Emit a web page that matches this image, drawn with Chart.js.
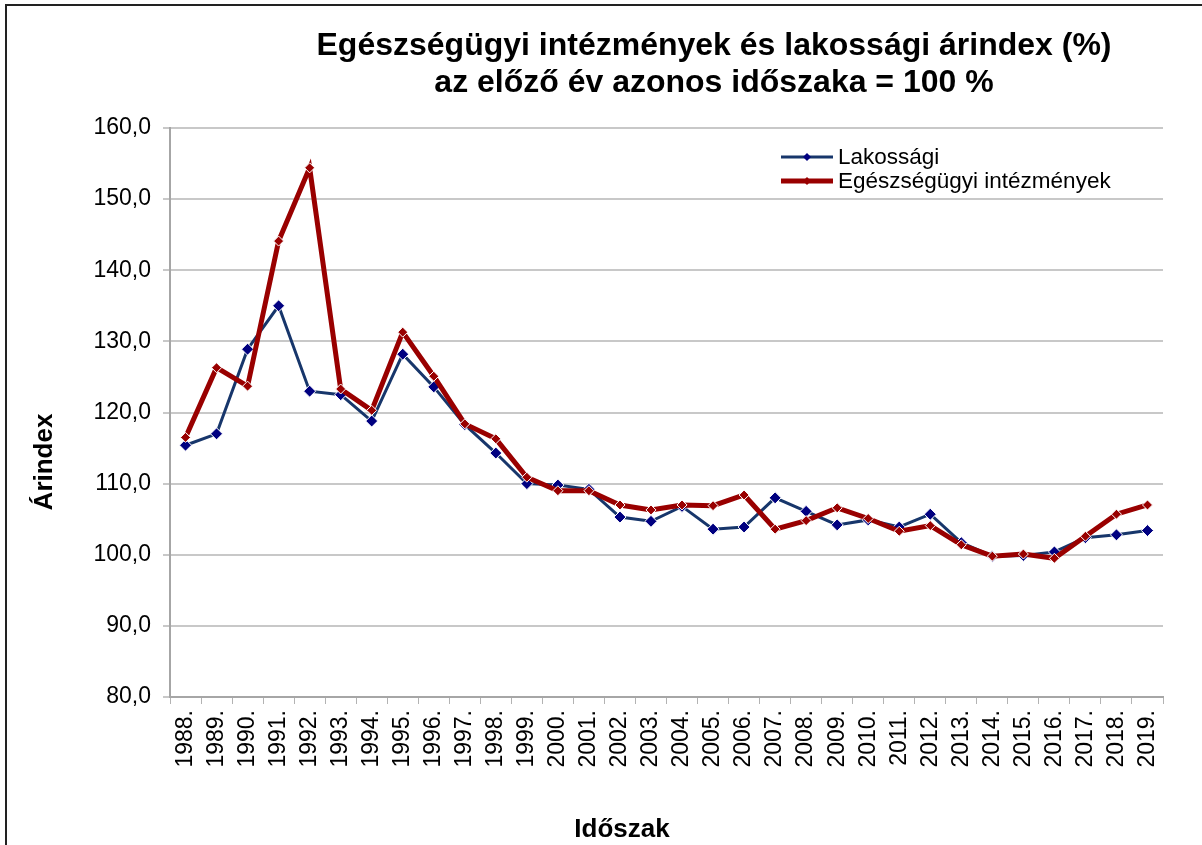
<!DOCTYPE html>
<html>
<head>
<meta charset="utf-8">
<script src="https://cdn.jsdelivr.net/npm/chart.js@4.4.0/dist/chart.umd.min.js"></script>
<style>
html,body{margin:0;padding:0;background:#fff;overflow:hidden;}
#wrap{position:absolute;left:0;top:0;width:1202px;height:845px;}
#frame{position:absolute;left:5px;top:4px;width:1400px;height:1000px;border-left:2px solid #222;border-top:2px solid #222;pointer-events:none;}
</style>
</head>
<body>
<div id="wrap"><canvas id="c" width="1202" height="845"></canvas></div>
<div id="frame"></div>
<script>
const categories = ["1988.","1989.","1990.","1991.","1992.","1993.","1994.","1995.","1996.","1997.","1998.","1999.","2000.","2001.","2002.","2003.","2004.","2005.","2006.","2007.","2008.","2009.","2010.","2011.","2012.","2013.","2014.","2015.","2016.","2017.","2018.","2019."];
const lakossagi = [115.4,117.0,128.9,135.0,123.0,122.5,118.8,128.2,123.6,118.3,114.3,110.0,109.8,109.2,105.3,104.7,106.8,103.6,103.9,108.0,106.1,104.2,104.9,103.9,105.7,101.7,99.8,99.9,100.4,102.4,102.8,103.4];
const egeszsegugyi = [116.5,126.3,123.7,144.1,154.4,123.3,120.3,131.3,125.1,118.4,116.3,110.9,109.0,109.0,107.0,106.3,107.0,106.9,108.4,103.6,104.8,106.6,105.1,103.3,104.1,101.4,99.8,100.1,99.5,102.6,105.7,107.0];
const yTicks = {min: 80, max: 160, step: 10};
const titleLines = ["Egészségügyi intézmények és lakossági árindex (%)", "az előző év azonos időszaka = 100 %"];
const yTitle = "Árindex";
const xTitle = "Időszak";

const FONT = "'Liberation Sans', Arial, sans-serif";

const textPlugin = {
  id: 'texts',
  afterDraw(chart) {
    const ctx = chart.ctx;
    ctx.save();
    ctx.fillStyle = '#000';
    ctx.textAlign = 'center';
    ctx.textBaseline = 'middle';
    ctx.font = "bold 32px " + FONT;
    ctx.fillText(titleLines[0], 714, 46);
    ctx.fillText(titleLines[1], 714, 83);
    ctx.font = "bold 26px " + FONT;
    ctx.fillText(xTitle, 622, 830);
    ctx.translate(45, 462);
    ctx.rotate(-Math.PI/2);
    ctx.fillText(yTitle, 0, 0);
    ctx.restore();
  }
};

const legendPlugin = {
  id: 'inlegend',
  afterDatasetsDraw(chart) {
    const ctx = chart.ctx;
    ctx.save();
    const x0 = 781, x1 = 833, tx = 838;
    const ys = [157, 181];
    chart.data.datasets.forEach((ds, i) => {
      const y = ys[i];
      ctx.strokeStyle = ds.borderColor;
      ctx.lineWidth = ds.borderWidth;
      ctx.beginPath(); ctx.moveTo(x0, y); ctx.lineTo(x1, y); ctx.stroke();
      const r = ds.legendMarker;
      const cx = (x0 + x1) / 2;
      ctx.fillStyle = ds.pointBackgroundColor;
      ctx.beginPath();
      ctx.moveTo(cx, y - r); ctx.lineTo(cx + r, y); ctx.lineTo(cx, y + r); ctx.lineTo(cx - r, y); ctx.closePath();
      ctx.fill();
      ctx.fillStyle = '#000';
      ctx.font = "22.5px " + FONT;
      ctx.textAlign = 'left';
      ctx.textBaseline = 'middle';
      ctx.fillText(ds.label, tx, y + 1);
    });
    ctx.restore();
  }
};

new Chart(document.getElementById('c'), {
  type: 'line',
  data: {
    labels: categories,
    datasets: [
      {
        label: 'Lakossági',
        data: lakossagi,
        borderColor: '#17366b',
        borderWidth: 3,
        pointStyle: 'rectRot',
        pointRadius: 6,
        pointBackgroundColor: '#000080',
        pointBorderColor: '#ffffff',
        pointBorderWidth: 1,
        tension: 0,
        order: 2,
        legendMarker: 4
      },
      {
        label: 'Egészségügyi intézmények',
        data: egeszsegugyi,
        borderColor: '#990000',
        borderWidth: 5,
        pointStyle: 'rectRot',
        pointRadius: 5,
        pointBackgroundColor: '#990000',
        pointBorderColor: '#ffffff',
        pointBorderWidth: 1,
        tension: 0,
        order: 1,
        legendMarker: 4
      }
    ]
  },
  options: {
    responsive: false,
    animation: false,
    devicePixelRatio: 1,
    layout: { padding: { top: 128, left: 0, right: 39, bottom: 0 } },
    plugins: { legend: { display: false }, title: { display: false }, tooltip: { enabled: false } },
    scales: {
      x: {
        type: 'category',
        offset: true,
        grid: { display: true, drawOnChartArea: false, drawTicks: true, tickLength: 7, offset: true, color: '#b3b3b3', lineWidth: 1 },
        border: { display: true, color: '#a6a6a6', width: 2 },
        ticks: { autoSkip: false, maxRotation: 90, minRotation: 90, padding: 6, color: '#000', font: { family: FONT, size: 23 } },
        afterFit(s) { s.height = 148; }
      },
      y: {
        min: yTicks.min, max: yTicks.max,
        grid: { color: '#c8c8c8', lineWidth: 2, tickLength: 7, drawTicks: true },
        border: { display: true, color: '#a6a6a6', width: 2 },
        ticks: {
          stepSize: yTicks.step, padding: 12, color: '#000', font: { family: FONT, size: 23 },
          callback: v => v.toFixed(1).replace('.', ',')
        },
        afterFit(s) { s.width = 170; }
      }
    }
  },
  plugins: [textPlugin, legendPlugin]
});
</script>
</body>
</html>
